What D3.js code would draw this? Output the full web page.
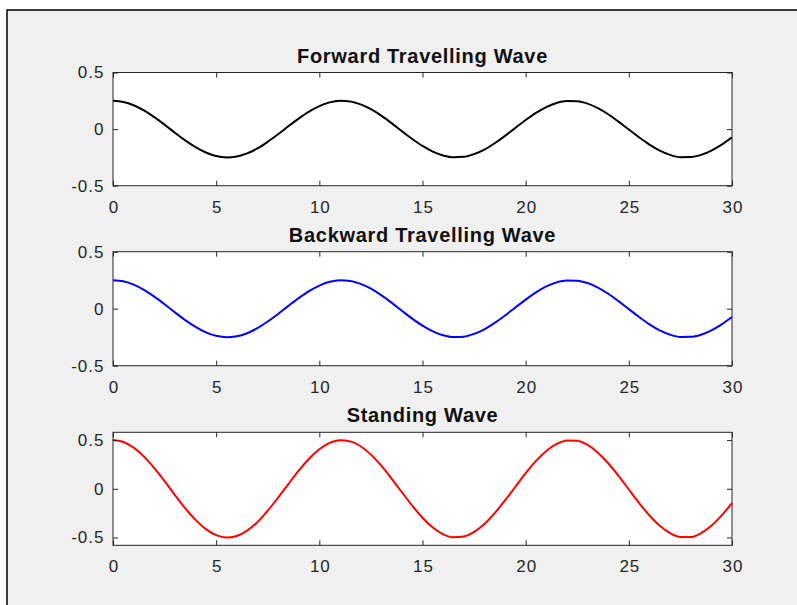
<!DOCTYPE html>
<html>
<head>
<meta charset="utf-8">
<script src="https://cdn.jsdelivr.net/npm/d3@7"></script>
<style>
	body { margin: 0; background: white; }
	text { font-family: "Liberation Sans", Arial, sans-serif; }
</style>
</head>
<body>
<div id="chart"></div>
<script>

// sample positions along x (read every 0.5 units)
let xs = [0,0.5,1,1.5,2,2.5,3,3.5,4,4.5,5,5.5,6,6.5,7,7.5,8,8.5,9,9.5,
	10,10.5,11,11.5,12,12.5,13,13.5,14,14.5,15,15.5,16,16.5,17,17.5,18,18.5,19,19.5,
	20,20.5,21,21.5,22,22.5,23,23.5,24,24.5,25,25.5,26,26.5,27,27.5,28,28.5,29,29.5,30]

let forwardWave = [0.250,0.240,0.211,0.165,0.106,0.039,-0.032,-0.100,-0.160,-0.207,
	-0.238,-0.250,-0.242,-0.215,-0.171,-0.112,-0.046,0.025,0.093,0.154,
	0.203,0.236,0.250,0.244,0.218,0.176,0.119,0.053,-0.018,-0.087,
	-0.149,-0.199,-0.233,-0.249,-0.245,-0.221,-0.181,-0.125,-0.060,0.011,
	0.080,0.143,0.195,0.231,0.248,0.246,0.225,0.185,0.131,0.066,
	-0.004,-0.073,-0.137,-0.190,-0.228,-0.248,-0.247,-0.228,-0.190,-0.137,-0.073]

let backwardWave = [0.250,0.240,0.211,0.165,0.106,0.039,-0.032,-0.100,-0.160,-0.207,
	-0.238,-0.250,-0.242,-0.215,-0.171,-0.112,-0.046,0.025,0.093,0.154,
	0.203,0.236,0.250,0.244,0.218,0.176,0.119,0.053,-0.018,-0.087,
	-0.149,-0.199,-0.233,-0.249,-0.245,-0.221,-0.181,-0.125,-0.060,0.011,
	0.080,0.143,0.195,0.231,0.248,0.246,0.225,0.185,0.131,0.066,
	-0.004,-0.073,-0.137,-0.190,-0.228,-0.248,-0.247,-0.228,-0.190,-0.137,-0.073]

let standingWave = [0.500,0.480,0.422,0.330,0.212,0.078,-0.064,-0.200,-0.319,-0.414,
	-0.476,-0.500,-0.484,-0.430,-0.342,-0.224,-0.091,0.049,0.186,0.309,
	0.406,0.471,0.499,0.487,0.437,0.351,0.237,0.105,-0.035,-0.173,
	-0.297,-0.398,-0.467,-0.498,-0.490,-0.442,-0.361,-0.250,-0.119,0.021,
	0.160,0.286,0.389,0.461,0.497,0.493,0.450,0.371,0.262,0.133,
	-0.007,-0.146,-0.274,-0.380,-0.456,-0.495,-0.495,-0.455,-0.380,-0.273,-0.146]

let titles = ['Forward Travelling Wave', 'Backward Travelling Wave', 'Standing Wave']
let colors = ['#000000', '#0000ff', '#ff0000']

let xTicks = [0, 5, 10, 15, 20, 25, 30]
let xTickLabels = ['0', '5', '10', '15', '20', '25', '30']
let yTicks = [-0.5, 0, 0.5]
let yTickLabels = ['-0.5', '0', '0.5']

let width = 797
let height = 605

const svg = d3.select('#chart')
	.append('svg')
	.attr('width', width)
	.attr('height', height)

// figure frame
svg.append('rect')
	.attr('x', 7)
	.attr('y', 10)
	.attr('width', width)
	.attr('height', height)
	.attr('fill', '#f0f0f0')
	.attr('stroke', '#000')
	.attr('stroke-width', 1.5)

let panels = [
	{'values': forwardWave, 'top': 72.5, 'bottom': 185.7, 'yDomain': [-0.5, 0.5]},
	{'values': backwardWave, 'top': 251.7, 'bottom': 365.7, 'yDomain': [-0.5, 0.5]},
	{'values': standingWave, 'top': 432.3, 'bottom': 545.3, 'yDomain': [-0.58, 0.58]}
]

let left = 113
let right = 732
let axisColor = '#262626'

panels.forEach(function(p, i){

	let xScale = d3.scaleLinear()
		.domain([0, 30])
		.range([left, right])

	let yScale = d3.scaleLinear()
		.domain(p.yDomain)
		.range([p.bottom, p.top])

	let g = svg.append('g')

	g.append('rect')
		.attr('x', left)
		.attr('y', p.top)
		.attr('width', right - left)
		.attr('height', p.bottom - p.top)
		.attr('fill', 'white')

	let line = d3.line()
		.curve(d3.curveMonotoneX)
		.x((d, j) => xScale(xs[j]))
		.y(d => yScale(d))

	g.append('path')
		.datum(p.values)
		.attr('d', line)
		.attr('fill', 'none')
		.attr('stroke', colors[i])
		.attr('stroke-width', 2)

	let xG = g.append('g')
		.attr('transform', `translate(0,${p.bottom})`)
		.call(d3.axisBottom(xScale).tickValues(xTicks).tickSize(-5).tickSizeOuter(0)
			.tickPadding(15).tickFormat((d, j) => xTickLabels[j]))

	let xTopG = g.append('g')
		.attr('transform', `translate(0,${p.top})`)
		.call(d3.axisTop(xScale).tickValues(xTicks).tickSize(-5).tickSizeOuter(0).tickFormat(''))

	let yG = g.append('g')
		.attr('transform', `translate(${left},0)`)
		.call(d3.axisLeft(yScale).tickValues(yTicks).tickSize(-5).tickSizeOuter(0)
			.tickPadding(8.5).tickFormat((d, j) => yTickLabels[j]))

	let yRightG = g.append('g')
		.attr('transform', `translate(${right},0)`)
		.call(d3.axisRight(yScale).tickValues(yTicks).tickSize(-5).tickSizeOuter(0).tickFormat(''))

	;[xG, xTopG, yG, yRightG].forEach(function(a){
		a.select('.domain').remove()
		a.selectAll('line').attr('stroke', axisColor)
		a.selectAll('text')
			.attr('fill', axisColor)
			.attr('font-size', 17)
			.attr('font-family', '"Liberation Sans", Arial, sans-serif')
			.attr('letter-spacing', 1)
	})

	xG.selectAll('text').attr('dx', 0.5)

	g.append('rect')
		.attr('x', left)
		.attr('y', p.top)
		.attr('width', right - left)
		.attr('height', p.bottom - p.top)
		.attr('fill', 'none')
		.attr('stroke', axisColor)
		.attr('stroke-width', 1)

	g.append('text')
		.attr('x', (left + right) / 2)
		.attr('y', p.top - 10)
		.attr('text-anchor', 'middle')
		.attr('font-size', 20)
		.attr('font-weight', 'bold')
		.attr('letter-spacing', 0.7)
		.attr('fill', '#111')
		.text(titles[i])
})

</script>
</body>
</html>
